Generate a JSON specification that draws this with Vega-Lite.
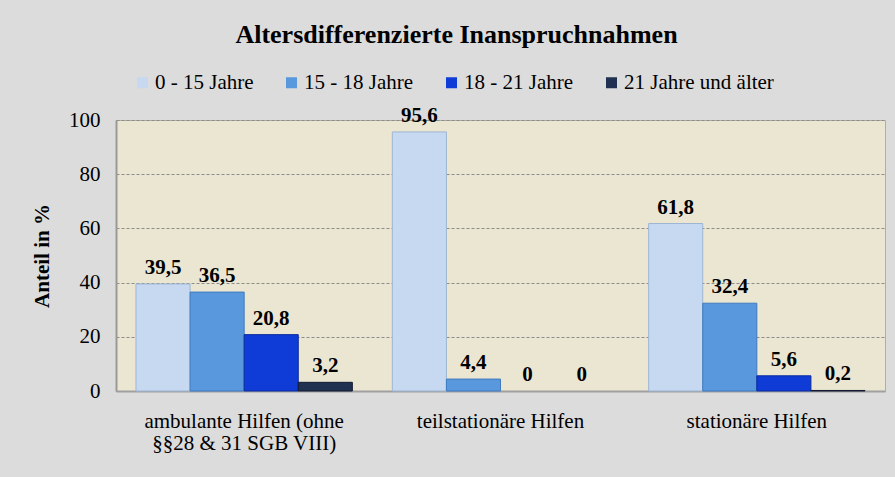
{
  "$schema": "https://vega.github.io/schema/vega-lite/v6.json",
  "autosize": "none",
  "width": 769,
  "height": 271,
  "padding": {"left": 116, "top": 120, "right": 10, "bottom": 86},
  "background": "#DCDCDC",
  "title": {
    "text": "Altersdifferenzierte Inanspruchnahmen",
    "font": "Liberation Serif",
    "fontSize": 26,
    "fontWeight": "bold",
    "color": "#000000",
    "anchor": "middle",
    "frame": "group",
    "offset": 24,
    "dx": -44
  },
  "data": {
    "values": [
      {"cat": "ambulante Hilfen (ohne §§28 & 31 SGB VIII)", "age": "0 - 15 Jahre", "value": 39.5},
      {"cat": "ambulante Hilfen (ohne §§28 & 31 SGB VIII)", "age": "15 - 18 Jahre", "value": 36.5},
      {"cat": "ambulante Hilfen (ohne §§28 & 31 SGB VIII)", "age": "18 - 21 Jahre", "value": 20.8},
      {"cat": "ambulante Hilfen (ohne §§28 & 31 SGB VIII)", "age": "21 Jahre und älter", "value": 3.2},
      {"cat": "teilstationäre Hilfen", "age": "0 - 15 Jahre", "value": 95.6},
      {"cat": "teilstationäre Hilfen", "age": "15 - 18 Jahre", "value": 4.4},
      {"cat": "teilstationäre Hilfen", "age": "18 - 21 Jahre", "value": 0},
      {"cat": "teilstationäre Hilfen", "age": "21 Jahre und älter", "value": 0},
      {"cat": "stationäre Hilfen", "age": "0 - 15 Jahre", "value": 61.8},
      {"cat": "stationäre Hilfen", "age": "15 - 18 Jahre", "value": 32.4},
      {"cat": "stationäre Hilfen", "age": "18 - 21 Jahre", "value": 5.6},
      {"cat": "stationäre Hilfen", "age": "21 Jahre und älter", "value": 0.2}
    ]
  },
  "encoding": {
    "x": {
      "field": "cat",
      "type": "nominal",
      "sort": null,
      "title": null,
      "scale": {"paddingInner": 0.156, "paddingOuter": 0.078},
      "axis": {
        "labelAngle": 0,
        "labelFont": "Liberation Serif",
        "labelFontSize": 21,
        "labelColor": "#000000",
        "labelLineHeight": 22,
        "labelPadding": 19,
        "labelBaseline": "top",
        "labelLimit": 300,
        "ticks": false,
        "domain": true,
        "domainColor": "#A0A0A0",
        "domainWidth": 2,
        "labelExpr": "indexof(datum.label, '§') > 0 ? ['ambulante Hilfen (ohne', '§§28 & 31 SGB VIII)'] : datum.label"
      }
    },
    "xOffset": {"field": "age", "type": "nominal", "sort": null},
    "y": {
      "field": "value",
      "type": "quantitative",
      "title": "Anteil in %",
      "scale": {"domain": [0, 100], "nice": false},
      "axis": {
        "values": [0, 20, 40, 60, 80, 100],
        "labelFont": "Liberation Serif",
        "labelFontSize": 21,
        "labelColor": "#000000",
        "labelPadding": 16,
        "ticks": false,
        "domain": true,
        "domainColor": "#999999",
        "domainWidth": 2,
        "grid": true,
        "gridColor": "#8C8C8C",
        "gridDash": [3, 2],
        "gridWidth": 1,
        "titleFont": "Liberation Serif",
        "titleFontSize": 21,
        "titleFontWeight": "bold",
        "titleColor": "#000000",
        "titlePadding": 16
      }
    }
  },
  "layer": [
    {
      "transform": [{"filter": "datum.value > 0"}],
      "mark": {"type": "bar", "strokeWidth": 1},
      "encoding": {
        "color": {
          "field": "age",
          "type": "nominal",
          "sort": null,
          "title": null,
          "scale": {"range": ["#C6D9F1", "#5A98DE", "#0F3CD6", "#1F3050"]},
          "legend": {
            "orient": "none",
            "direction": "horizontal",
            "legendX": 16,
            "legendY": -48,
            "symbolType": "square",
            "symbolSize": 121,
            "symbolStrokeWidth": 0,
            "labelFont": "Liberation Serif",
            "labelFontSize": 21,
            "labelColor": "#000000",
            "labelOffset": 2,
            "labelLimit": 300,
            "columnPadding": 27
          }
        },
        "stroke": {
          "field": "age",
          "type": "nominal",
          "sort": null,
          "scale": {"range": ["#9DB5D3", "#3F7BC0", "#0A2A9E", "#101A30"]},
          "legend": null
        }
      }
    },
    {
      "mark": {
        "type": "text",
        "baseline": "alphabetic",
        "dy": -10,
        "font": "Liberation Serif",
        "fontSize": 21,
        "fontWeight": "bold",
        "color": "#000000"
      },
      "encoding": {
        "text": {"field": "value", "type": "quantitative", "format": ".1~f"}
      }
    }
  ],
  "config": {
    "locale": {
      "number": {"decimal": ",", "thousands": ".", "grouping": [3], "currency": ["", " €"]}
    },
    "view": {"fill": "#EBE6D2", "stroke": "#B0B0A0", "strokeWidth": 1}
  }
}
